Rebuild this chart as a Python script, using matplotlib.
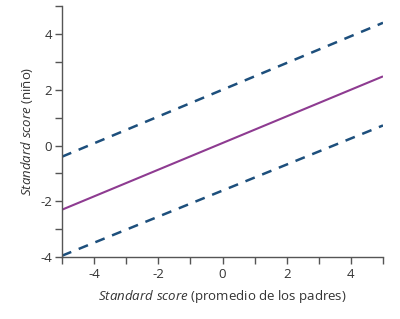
import matplotlib
matplotlib.use('Agg')
import matplotlib.pyplot as plt
from matplotlib.ticker import MultipleLocator

# values
x_ends = [-5, 5]
mean_line = [-2.3, 2.48]
upper_line = [-0.4, 4.4]
lower_line = [-3.95, 0.72]

x_ticks = [-4, -2, 0, 2, 4]
y_ticks = [-4, -2, 0, 2, 4]

plt.rcParams['font.family'] = ['Open Sans', 'DejaVu Sans']
plt.rcParams['axes.unicode_minus'] = False
# italic part of the axis labels in the same family
plt.rcParams['mathtext.fontset'] = 'custom'
plt.rcParams['mathtext.it'] = 'Open Sans:italic'
plt.rcParams['mathtext.rm'] = 'Open Sans'

fig = plt.figure(figsize=(4.0, 3.19), dpi=100)
ax = fig.add_axes([0.155, 0.194, 0.8025, 0.787])

ax.plot(x_ends, mean_line, color='#8e3b91', linewidth=1.5, solid_capstyle='butt')
ax.plot(x_ends, upper_line, color='#1d4f7c', linewidth=1.8, linestyle=(0, (4, 3.2)))
ax.plot(x_ends, lower_line, color='#1d4f7c', linewidth=1.8, linestyle=(0, (4, 3.2)))

ax.set_xlim(-5, 5)
ax.set_ylim(-4, 5)
ax.set_xticks(x_ticks)
ax.set_yticks(y_ticks)
ax.xaxis.set_minor_locator(MultipleLocator(1))
ax.yaxis.set_minor_locator(MultipleLocator(1))

# spines
for side in ['top', 'right']:
    ax.spines[side].set_visible(False)
for side in ['left', 'bottom']:
    ax.spines[side].set_color('#555555')
    ax.spines[side].set_linewidth(1.0)

ax.tick_params(which='both', direction='out', color='#555555', width=1.0, length=5,
               labelsize=9.5, labelcolor='#333333')
ax.tick_params(axis='x', pad=3)
ax.tick_params(axis='y', pad=2)

ax.set_xlabel(r'$\it{Standard\ score}$ (promedio de los padres)', fontsize=9.5, color='#333333', labelpad=5)
ax.set_ylabel(r'$\it{Standard\ score}$ (niño)', fontsize=9.5, color='#333333', labelpad=4)

fig.savefig('out.png', dpi=100)
